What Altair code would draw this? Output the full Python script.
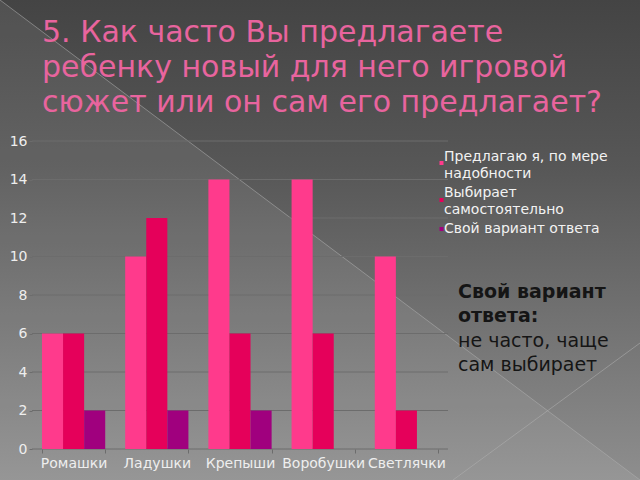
import altair as alt
import pandas as pd

categories = ["Ромашки", "Ладушки", "Крепыши", "Воробушки", "Светлячки"]
series_names = ["Предлагаю я, по мере надобности", "Выбирает самостоятельно", "Свой вариант ответа"]
s1 = [6, 10, 14, 14, 10]
s2 = [6, 12, 6, 6, 2]
s3 = [2, 2, 2, 0, 0]
colors = ["#FF3A8C", "#E5005A", "#A0007E"]
y_ticks = [0, 2, 4, 6, 8, 10, 12, 14, 16]
title_lines = ["5. Как часто Вы предлагаете", "ребенку новый для него игровой", "сюжет или он сам его предлагает?"]
legend_lines = ["Предлагаю я, по мере", "надобности", "Выбирает", "самостоятельно", "Свой вариант ответа"]
note_lines = ["Свой вариант", "ответа:", "не часто, чаще", "сам выбирает"]

W, H = 416, 308
PL, PT = 32, 141
FONT = "DejaVu Sans"

rows = []
for i, c in enumerate(categories):
    for s, vals in zip(series_names, [s1, s2, s3]):
        rows.append({"cat": c, "series": s, "value": vals[i]})
df = pd.DataFrame(rows)

one = alt.Data(values=[{"a": 0}])

def ax(v):
    return alt.value(v - PL)

def ay(v):
    return alt.value(v - PT)

bg = alt.Chart(one).mark_rect(
    color=alt.LinearGradient(
        gradient="linear",
        stops=[alt.GradientStop(color="#444444", offset=0),
               alt.GradientStop(color="#575757", offset=0.35),
               alt.GradientStop(color="#8e8e8e", offset=1)],
        x1=0, x2=0, y1=0, y2=1)
).encode(x=ax(0), x2=ax(640), y=ay(0), y2=ay(480))

tri = alt.Chart(one).mark_point(
    shape="M -1 -0.75 L 1 0.75 L -1 0.75 Z", filled=True, fill="#ffffff", fillOpacity=0.07, strokeWidth=0
).encode(x=ax(320), y=ay(240), size=alt.value(640 * 640))

line1 = alt.Chart(one).mark_rule(color="#b0b0b0", opacity=0.55, strokeWidth=1).encode(
    x=ax(0), y=ay(0), x2=ax(640), y2=ay(480))
line2 = alt.Chart(one).mark_rule(color="#b0b0b0", opacity=0.55, strokeWidth=1).encode(
    x=ax(453), y=ay(480), x2=ax(640), y2=ay(343))

y_axis = alt.Axis(values=y_ticks, labelFontSize=14, labelColor="#eeeeee", labelFont=FONT,
                  tickSize=3, tickColor="#6c6c6c", domain=False, grid=False, labelPadding=2, zindex=1)
y_scale = alt.Scale(domain=[0, 16])

grid_df = pd.DataFrame({"v": y_ticks})
grid = alt.Chart(grid_df).mark_rule(color="#6c6c6c", strokeWidth=1).encode(
    y=alt.Y("v:Q", scale=y_scale, axis=y_axis, title=None),
    x=alt.value(0), x2=alt.value(W))

bars = alt.Chart(df).mark_bar().encode(
    x=alt.X("cat:N", sort=categories, title=None,
            scale=alt.Scale(paddingInner=0.24, paddingOuter=0.12),
            axis=alt.Axis(labelAngle=0, labelFontSize=14, labelColor="#eeeeee", labelFont=FONT,
                          tickBand="extent", ticks=True, tickSize=4, tickColor="#6c6c6c",
                          domain=False, grid=False, labelPadding=3, zindex=1)),
    xOffset=alt.XOffset("series:N", sort=series_names, scale=alt.Scale(paddingInner=0, paddingOuter=0)),
    y=alt.Y("value:Q", scale=y_scale, title=None, axis=y_axis),
    color=alt.Color("series:N", scale=alt.Scale(domain=series_names, range=colors), legend=None),
)

layers = [bg, tri, line1, line2, grid, bars]

title_y = [42, 77, 112]
for t, yy in zip(title_lines, title_y):
    layers.append(alt.Chart(one).mark_text(
        text=t, align="left", baseline="alphabetic", font=FONT, fontSize=30, color="#E8649E"
    ).encode(x=ax(42), y=ay(yy)))

leg_y = [161, 178, 197, 214, 233]
for t, yy in zip(legend_lines, leg_y):
    layers.append(alt.Chart(one).mark_text(
        text=t, align="left", baseline="alphabetic", font=FONT, fontSize=14, color="#f2f2f2"
    ).encode(x=ax(444), y=ay(yy)))

marker_y = [163, 200, 229]
for c, yy in zip(colors, marker_y):
    layers.append(alt.Chart(one).mark_square(filled=True, color=c, opacity=1).encode(
        x=ax(441.5), y=ay(yy), size=alt.value(16)))

note_y = [298, 322, 347, 371]
for i, (t, yy) in enumerate(zip(note_lines, note_y)):
    layers.append(alt.Chart(one).mark_text(
        text=t, align="left", baseline="alphabetic", font=FONT, fontSize=19,
        fontWeight="bold" if i < 2 else "normal", color="#151515"
    ).encode(x=ax(458), y=ay(yy)))

chart = alt.layer(*layers).properties(
    width=W, height=H,
    autosize=alt.AutoSizeParams(type="none"),
    padding={"left": PL, "top": PT, "right": 640 - PL - W, "bottom": 480 - PT - H},
    background="#5a5a5a",
).configure_view(stroke=None)

chart.save("out.html", embed_options={"renderer": "svg", "actions": False})
